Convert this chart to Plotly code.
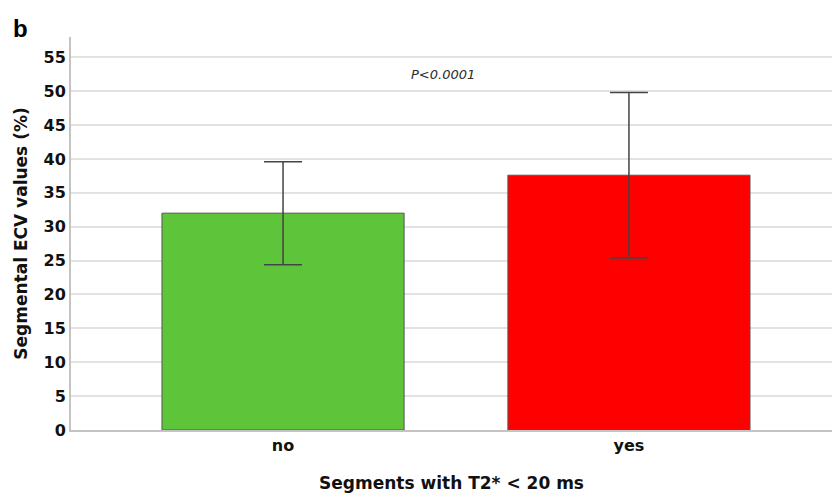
import plotly.graph_objects as go

categories = ["no", "yes"]
means = [32.0, 37.6]
err = [7.6, 12.2]
colors = ["#5ec43a", "#ff0000"]
y_ticks = [0, 5, 10, 15, 20, 25, 30, 35, 40, 45, 50, 55]
p_label = "P<0.0001"

FONT = "DejaVu Sans, Liberation Sans, Arial"

fig = go.Figure()
fig.add_trace(go.Bar(
    x=[0, 1], y=means, width=0.70,
    marker=dict(color=colors, line=dict(color="#555555", width=1)),
    error_y=dict(type="data", array=err, visible=True, color="#444444", thickness=1.5, width=19),
    showlegend=False,
))

fig.add_annotation(x=0.461, y=52.4, xref="x", yref="y", text=f"<i>{p_label}</i>", showarrow=False,
                   font=dict(family=FONT, size=13, color="#2a2a2a"))

fig.update_layout(
    width=832, height=495,
    margin=dict(l=71, r=0, t=37, b=65),
    paper_bgcolor="white", plot_bgcolor="white",
    font=dict(family=FONT, color="#111111"),
    xaxis=dict(
        range=[-0.613, 1.587], tickvals=[0, 1], ticktext=[f"<b>{c}</b>" for c in categories],
        tickfont=dict(size=16), showline=True, linecolor="#c4c4c4", linewidth=2,
        showgrid=False, ticks="", zeroline=False,
        title=dict(text="<b>Segments with T2* < 20 ms</b>", font=dict(size=17), standoff=23),
    ),
    yaxis=dict(
        range=[0, 58], tickvals=y_ticks, ticktext=[f"<b>{t}</b>" for t in y_ticks],
        tickfont=dict(size=16), showline=True, linecolor="#c4c4c4", linewidth=2,
        showgrid=True, gridcolor="#e2e2e2", gridwidth=2, ticks="", zeroline=False,
        title=dict(text="<b>Segmental ECV values (%)</b>", font=dict(size=17), standoff=12),
    ),
)
fig.add_annotation(x=0, y=1, xref="paper", yref="paper", xanchor="left", yanchor="bottom",
                   xshift=-60, yshift=-7, text="<b>b</b>", showarrow=False,
                   font=dict(family="Liberation Sans, Arial", size=24, color="#000000"))
fig.write_html("out.html")
